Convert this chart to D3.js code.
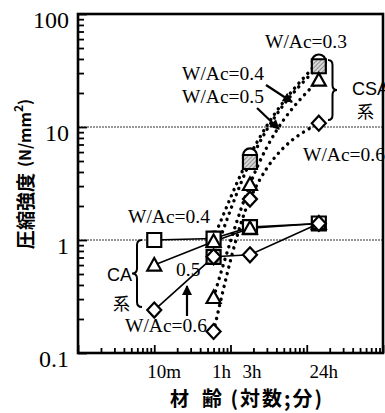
<!DOCTYPE html>
<html>
<head>
<meta charset="utf-8">
<script src="https://cdn.jsdelivr.net/npm/d3@7"></script>
<style>
  body { margin: 0; background: #fff; }
  svg { display: block; }
</style>
</head>
<body>
<div id="chart"></div>
<script>
// material age in minutes
const caAges = [10, 60, 180, 1440];
const csaAges = [60, 180, 1440];
const ageLabels = ["10m", "1h", "3h", "24h"];

// compressive strength, N/mm2
const ca04 = [1.0, 1.03, 1.3, 1.4];
const ca05 = [0.6, 0.97, 1.27, 1.4];
const ca06 = [0.24, 0.71, 0.74, 1.4];
const csa03 = [1.03, 5.6, 38];
const csa04 = [0.71, 4.9, 34.5];
const csa05 = [0.31, 3.1, 26];
const csa06 = [0.155, 2.3, 10.8];

const yTickValues = [0.1, 1, 10, 100];
const yTickLabels = ["0.1", "1", "10", "100"];
const gridValues = [1, 10];

const width = 385, height = 413;
const plotLeft = 78, plotRight = 383, plotTop = 14, plotBottom = 353;
const serif = "'Liberation Serif', 'DejaVu Serif', serif";
const cjk = "'Noto Sans CJK JP', 'Noto Sans', sans-serif";

const svg = d3.select('#chart').append('svg')
    .attr('width', width)
    .attr('height', height)
    .attr('viewBox', [0, 0, width, height]);

const defs = svg.append('defs');
const hatch = defs.append('pattern')
    .attr('id', 'hatch')
    .attr('patternUnits', 'userSpaceOnUse')
    .attr('width', 3).attr('height', 3)
    .attr('patternTransform', 'rotate(45)');
hatch.append('rect').attr('width', 3).attr('height', 3).attr('fill', '#d8d8d8');
hatch.append('line').attr('x1', 0).attr('y1', 0).attr('x2', 0).attr('y2', 3)
    .attr('stroke', '#444').attr('stroke-width', 1);

defs.append('marker')
    .attr('id', 'arrow')
    .attr('viewBox', '0 0 10 10')
    .attr('refX', 9).attr('refY', 5)
    .attr('markerUnits', 'userSpaceOnUse')
    .attr('markerWidth', 11).attr('markerHeight', 10)
    .attr('orient', 'auto')
    .append('path').attr('d', 'M0,0 L10,5 L0,10 Z').attr('fill', '#000');

const x = d3.scaleLog().domain([1, 10000]).range([plotLeft, plotRight]);
const y = d3.scaleLog().domain([0.1, 100]).range([plotBottom, plotTop]);

const isDecade = v => Math.abs(Math.log10(v) - Math.round(Math.log10(v))) < 1e-6;

//grid lines at 1 and 10
svg.append('g')
    .selectAll('line')
    .data(gridValues)
    .join('line')
    .attr('x1', plotLeft).attr('x2', plotRight)
    .attr('y1', d => y(d)).attr('y2', d => y(d))
    .attr('stroke', '#333')
    .attr('stroke-width', 1)
    .attr('stroke-dasharray', '2 1');

//inward ticks
function tickAxis(axis, transform) {
    svg.append('g')
        .attr('transform', transform)
        .call(axis.tickFormat(''))
        .call(g => g.select('.domain').remove())
        .call(g => g.selectAll('.tick line').attr('stroke', '#000').attr('stroke-width', 1.8));
}
const yAll = y.ticks();
const xAll = x.ticks();
tickAxis(d3.axisRight(y).tickValues(yAll.filter(v => !isDecade(v))).tickSize(6), `translate(${plotLeft},0)`);
tickAxis(d3.axisRight(y).tickValues(yAll.filter(isDecade)).tickSize(9), `translate(${plotLeft},0)`);
tickAxis(d3.axisTop(x).tickValues(xAll.filter(v => !isDecade(v))).tickSize(5), `translate(0,${plotBottom})`);
tickAxis(d3.axisTop(x).tickValues(xAll.filter(isDecade)).tickSize(8), `translate(0,${plotBottom})`);

//frame
svg.append('rect')
    .attr('x', plotLeft).attr('y', plotTop)
    .attr('width', plotRight - plotLeft).attr('height', plotBottom - plotTop)
    .attr('fill', 'none')
    .attr('stroke', '#000')
    .attr('stroke-width', 2.6);

//y tick labels
svg.append('g')
    .selectAll('text')
    .data(yTickValues)
    .join('text')
    .attr('x', 69)
    .attr('y', d => y(d) + 14)
    .attr('text-anchor', 'end')
    .style('font', `24px ${serif}`)
    .text((d, i) => yTickLabels[i]);

//x tick labels
const labelNudge = {"10m": 10, "1h": 8, "3h": 2, "24h": 5};
svg.append('g')
    .selectAll('text')
    .data(caAges)
    .join('text')
    .attr('x', (d, i) => x(d) + labelNudge[ageLabels[i]])
    .attr('y', 378)
    .attr('text-anchor', 'middle')
    .style('font', `19px ${serif}`)
    .text((d, i) => ageLabels[i]);

//axis titles
const yTitle = svg.append('text')
    .attr('transform', 'translate(24,174) rotate(-90)')
    .attr('text-anchor', 'middle')
    .attr('dominant-baseline', 'central')
    .style('font-family', cjk)
    .style('font-weight', 'bold')
    .style('font-size', '19px');
yTitle.append('tspan').text('圧縮強度');
yTitle.append('tspan').attr('dx', 6).style('font-size', '16px').text('(N/mm');
yTitle.append('tspan').attr('dy', -7).style('font-size', '12px').text('2');
yTitle.append('tspan').attr('dy', 7).style('font-size', '16px').text(')');

svg.append('text')
    .attr('x', 170).attr('y', 406)
    .style('font', `bold 19px ${cjk}`)
    .text('材');
svg.append('text')
    .attr('x', 202).attr('y', 406)
    .style('font', `bold 20px ${cjk}`)
    .style('letter-spacing', '2px')
    .text('齢 (対数;分)');

//series
const caSeries = [
    {name: 'CA 0.4', ages: caAges, values: ca04, shape: 'square'},
    {name: 'CA 0.5', ages: caAges, values: ca05, shape: 'triangle'},
    {name: 'CA 0.6', ages: caAges, values: ca06, shape: 'diamond'}
];
const csaSeries = [
    {name: 'CSA 0.3', ages: csaAges, values: csa03, shape: 'circle'},
    {name: 'CSA 0.4', ages: csaAges, values: csa04, shape: 'hatchSquare'},
    {name: 'CSA 0.5', ages: csaAges, values: csa05, shape: 'triangle'},
    {name: 'CSA 0.6', ages: csaAges, values: csa06, shape: 'diamond'}
];
const points = s => s.ages.map((a, i) => [a, s.values[i]]);

//CSA dotted curves
const curve = d3.line().x(d => x(d[0])).y(d => y(d[1])).curve(d3.curveMonotoneX);
svg.append('g')
    .selectAll('path')
    .data(csaSeries)
    .join('path')
    .attr('d', s => curve(points(s)))
    .attr('fill', 'none')
    .attr('stroke', '#000')
    .attr('stroke-width', 3.4)
    .attr('stroke-linecap', 'round')
    .attr('stroke-dasharray', '0.1 6.5');

//CA solid lines
const line = d3.line().x(d => x(d[0])).y(d => y(d[1]));
svg.append('g')
    .selectAll('path')
    .data(caSeries)
    .join('path')
    .attr('d', s => line(points(s)))
    .attr('fill', 'none')
    .attr('stroke', '#000')
    .attr('stroke-width', 1.6);

const shapePath = {
    square: 'M-7,-7H7V7H-7Z',
    hatchSquare: 'M-7,-7H7V7H-7Z',
    triangle: 'M0,-7L7,5.5H-7Z',
    diamond: 'M0,-7.5L7,0L0,7.5L-7,0Z'
};

function drawMarkers(series) {
    series.forEach(s => {
        const g = svg.append('g');
        const sel = g.selectAll('.m')
            .data(points(s))
            .join(s.shape === 'circle' ? 'circle' : 'path')
            .attr('class', 'm')
            .attr('stroke', '#000')
            .attr('stroke-width', 2.2)
            .attr('fill', s.shape === 'hatchSquare' ? 'url(#hatch)' : '#fff');
        if (s.shape === 'circle') {
            sel.attr('cx', d => x(d[0])).attr('cy', d => y(d[1])).attr('r', 7);
        } else {
            sel.attr('d', shapePath[s.shape])
                .attr('transform', d => `translate(${x(d[0])},${y(d[1])})`);
        }
    });
}
drawMarkers(csaSeries);
drawMarkers(caSeries);

//annotations
const notes = [
    {text: 'W/Ac=0.3', x: 265, y: 48},
    {text: 'W/Ac=0.4', x: 182, y: 80},
    {text: 'W/Ac=0.5', x: 182, y: 103},
    {text: 'W/Ac=0.6', x: 303, y: 161},
    {text: 'W/Ac=0.4', x: 128, y: 223},
    {text: '0.5', x: 176, y: 276},
    {text: 'W/Ac=0.6', x: 125, y: 332}
];
svg.append('g')
    .selectAll('text')
    .data(notes)
    .join('text')
    .attr('x', d => d.x)
    .attr('y', d => d.y)
    .style('font', `19.5px ${serif}`)
    .text(d => d.text);

const groups = [
    {text: 'CSA', kanjiX: 357, x: 352, y: 95, kanjiY: 118},
    {text: 'CA', kanjiX: 113, x: 107, y: 281, kanjiY: 310}
];
groups.forEach(d => {
    svg.append('text').attr('x', d.x).attr('y', d.y)
        .style('font', "18px 'Liberation Sans', Arial, sans-serif").text(d.text);
    svg.append('text').attr('x', d.kanjiX).attr('y', d.kanjiY)
        .style('font', `17px ${cjk}`).text('系');
});

//braces
function brace(xEdge, xTip, y0, y1) {
    const xm = (xEdge + xTip) / 2, ym = (y0 + y1) / 2, r = 5;
    return `M${xEdge},${y0} Q${xm},${y0} ${xm},${y0 + r} L${xm},${ym - r} Q${xm},${ym} ${xTip},${ym}` +
        ` Q${xm},${ym} ${xm},${ym + r} L${xm},${y1 - r} Q${xm},${y1} ${xEdge},${y1}`;
}
svg.append('path').attr('d', brace(328, 337, 60, 120))
    .attr('fill', 'none').attr('stroke', '#000').attr('stroke-width', 2);
svg.append('path').attr('d', brace(142, 132, 240, 307))
    .attr('fill', 'none').attr('stroke', '#000').attr('stroke-width', 2);

//arrows
const arrows = [[266, 85, 292, 102], [257, 108, 279, 129], [187, 316, 187, 286]];
svg.append('g')
    .selectAll('line')
    .data(arrows)
    .join('line')
    .attr('x1', d => d[0]).attr('y1', d => d[1])
    .attr('x2', d => d[2]).attr('y2', d => d[3])
    .attr('stroke', '#000')
    .attr('stroke-width', 2.2)
    .attr('marker-end', 'url(#arrow)');
</script>
</body>
</html>
